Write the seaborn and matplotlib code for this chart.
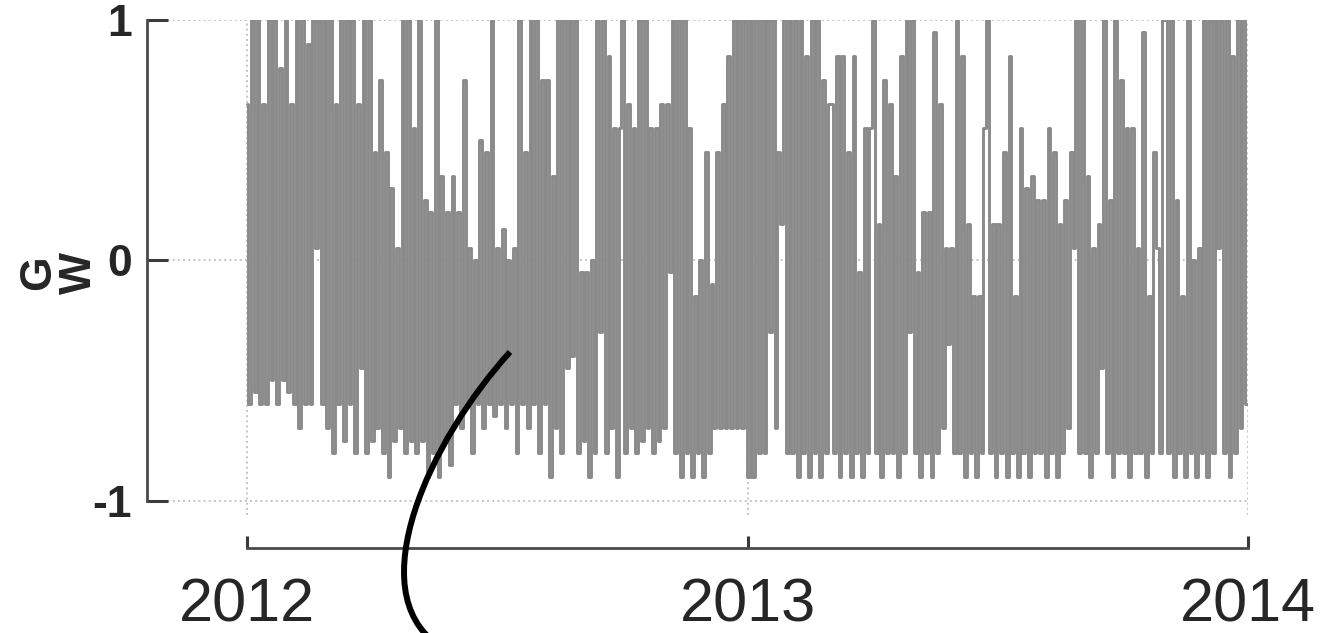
import numpy as np
import pandas as pd
import seaborn as sns
import matplotlib
matplotlib.use('Agg')
import matplotlib.pyplot as plt
from matplotlib.path import Path
from matplotlib.patches import PathPatch

# GW index: about one value every two days, by month
jan12 = [0.65, -0.6, 1.0, -0.55, 1.0, -0.6, 0.65, -0.6, 1.0, -0.5, 1.0, -0.6, 0.8, -0.5, 1.0]
feb12 = [-0.55, 0.65, -0.6, 1.0, -0.7, 1.0, -0.6, 0.9, -0.6, 1.0, 0.05, 1.0, -0.6, 1.0, -0.7]
mar12 = [1.0, -0.8, 0.65, -0.6, 1.0, -0.75, 1.0, -0.6, 1.0, -0.8, 0.65, -0.45, 1.0, -0.8, 1.0]
apr12 = [-0.75, 0.45, -0.7, 0.75, -0.8, 0.45, -0.9, 0.3, -0.75, 0.05, -0.7, 1.0, -0.8, 1.0, -0.75]
may12 = [0.55, -0.8, 1.0, -0.75, 0.25, -0.9, 0.2, -0.8, 1.0, -0.9, 0.35, -0.75, 0.2, -0.85, 0.35]
jun12 = [-0.6, 0.2, -0.7, 0.75, -0.6, 0.05, -0.8, 0.0, -0.6, 0.5, -0.7, 0.45, -0.6, 1.0, -0.65]
jul12 = [0.05, -0.6, 0.13, -0.7, 0.0, -0.6, 0.05, -0.8, 1.0, -0.6, 0.45, -0.7, 1.0, -0.6, 1.0]
aug12 = [-0.8, 0.75, -0.6, 0.75, -0.9, 0.35, -0.7, 1.0, -0.8, 1.0, -0.45, 1.0, -0.4, 1.0, -0.8]
sep12 = [-0.05, -0.75, -0.05, -0.9, 0.0, -0.8, 1.0, -0.3, 1.0, -0.8, 0.85, -0.7, 0.55, -0.9, 0.55]
oct12 = [1.0, -0.8, 0.65, -0.7, 0.55, -0.8, 1.0, -0.75, 1.0, -0.7, 0.55, -0.8, 0.55, -0.75, 0.65]
nov12 = [-0.7, 0.65, -0.05, 1.0, -0.8, 1.0, -0.9, 1.0, -0.8, 0.55, -0.9, -0.15, -0.8, 0.0, -0.9]
dec12 = [0.45, -0.8, -0.1, -0.7, 0.45, -0.7, 0.65, -0.7, 0.85, -0.7, 1.0, -0.7, 1.0, -0.7, 1.0]
jan13 = [-0.9, 1.0, -0.9, 1.0, -0.8, 1.0, -0.8, 1.0, -0.3, 1.0, -0.7, 0.45, 0.15, 1.0, -0.8]
feb13 = [1.0, -0.8, 1.0, -0.9, 1.0, -0.8, 0.85, -0.9, 1.0, -0.8, 1.0, -0.9, 0.75, -0.8, 0.65]
mar13 = [0.65, -0.8, 0.85, -0.9, 0.85, -0.8, 0.45, -0.9, 0.85, -0.8, -0.05, -0.9, 0.55, -0.8, 0.55]
apr13 = [1.0, -0.8, 0.15, -0.9, 0.75, -0.8, 0.65, -0.8, 0.35, -0.9, 0.85, -0.8, 1.0, -0.3, 1.0]
may13 = [-0.8, -0.05, -0.9, 0.2, -0.8, 0.2, -0.9, 0.95, -0.8, 0.65, -0.7, 0.05, -0.35, 0.05, -0.8]
jun13 = [1.0, -0.8, 0.85, -0.9, 0.15, -0.8, -0.15, -0.9, -0.15, -0.8, 0.55, 1.0, -0.8, 0.15, -0.9]
jul13 = [0.15, -0.8, 0.45, -0.9, 0.85, -0.8, -0.15, -0.9, 0.55, -0.8, 0.3, -0.9, 0.35, -0.8, 0.25]
aug13 = [-0.8, 0.25, -0.9, 0.55, -0.8, 0.45, -0.9, 0.15, -0.8, 0.25, -0.7, 0.45, 0.05, 1.0, -0.8]
sep13 = [1.0, -0.8, 0.35, -0.9, 0.05, -0.8, 0.15, -0.45, 1.0, -0.8, 0.25, -0.9, 1.0, -0.8, 0.75]
oct13 = [-0.8, 0.55, -0.9, 0.55, -0.8, 0.05, -0.8, 0.95, -0.9, -0.15, -0.8, 0.45, 0.05, -0.8, 1.0]
nov13 = [1.0, -0.8, 1.0, -0.9, 0.25, -0.8, -0.15, -0.9, 1.0, -0.8, 0.0, -0.9, 0.05, -0.8, 1.0]
dec13 = [-0.9, 1.0, -0.8, 1.0, 0.05, 1.0, -0.8, 1.0, -0.9, 0.85, -0.8, 1.0, -0.7, 1.0, -0.6]

gw = (jan12 + feb12 + mar12 + apr12 + may12 + jun12 + jul12 + aug12 + sep12 + oct12 + nov12 + dec12
      + jan13 + feb13 + mar13 + apr13 + may13 + jun13 + jul13 + aug13 + sep13 + oct13 + nov13 + dec13)
dates = pd.date_range('2012-01-01', '2013-12-31', periods=len(gw))

year_ticks = pd.to_datetime(['2012-01-01', '2013-01-01', '2014-01-01'])
year_labels = ['2012', '2013', '2014']
gw_ticks = [-1, 0, 1]
gw_labels = ['-1', '0', '1']

sns.set_style('ticks')
plt.rcParams['font.family'] = ['Liberation Sans', 'DejaVu Sans']

fig = plt.figure(figsize=(13.32, 6.33), dpi=100)
ax = fig.add_axes([147 / 1332, 1 - 515 / 633, 1101 / 1332, 495 / 633])

df = pd.DataFrame({'date': dates, 'gw': gw})
sns.lineplot(data=df, x='date', y='gw', color='#8a8a8a', linewidth=2.1,
             drawstyle='steps-mid', ax=ax)

ax.set_xlim(pd.Timestamp('2011-10-20'), pd.Timestamp('2014-01-01'))
ax.set_ylim(-1.06, 1.0)
ax.set_xticks(year_ticks)
ax.set_yticks(gw_ticks)
ax.grid(True, linestyle=':', color='#c4c4c4', linewidth=1.4)
ax.set_axisbelow(True)

for side in ['left', 'bottom']:
    ax.spines[side].set_color('#4a4a4a')
    ax.spines[side].set_linewidth(2)
sns.despine(ax=ax, offset={'left': 0, 'bottom': 24}, trim=True)

ax.set_xticks(year_ticks)
ax.set_xticklabels(year_labels, fontsize=44)
ax.set_yticks(gw_ticks)
ax.set_yticklabels(gw_labels, fontsize=32, fontweight='bold')
ax.tick_params(axis='y', direction='in', length=15, width=2.2, color='#3a3a3a', pad=11)
ax.tick_params(axis='x', direction='in', length=9, width=2.2, color='#3a3a3a', pad=21)

ax.set_xlabel('')
ax.set_ylabel('G\nW', fontsize=32, fontweight='bold', linespacing=1.0,
              va='center', ha='center', rotation_mode='default')
ax.yaxis.set_label_coords(-0.08, 0.489)

# hand drawn arc over the plot
def fpt(x, y):
    return (x / 1332, 1 - y / 633)

arc = Path([fpt(510, 352), fpt(430, 440), fpt(360, 590), fpt(438, 645)],
           [Path.MOVETO, Path.CURVE4, Path.CURVE4, Path.CURVE4])
fig.add_artist(PathPatch(arc, transform=fig.transFigure, fill=False,
                         edgecolor='black', linewidth=4.3))

fig.savefig('out.png', dpi=100)
